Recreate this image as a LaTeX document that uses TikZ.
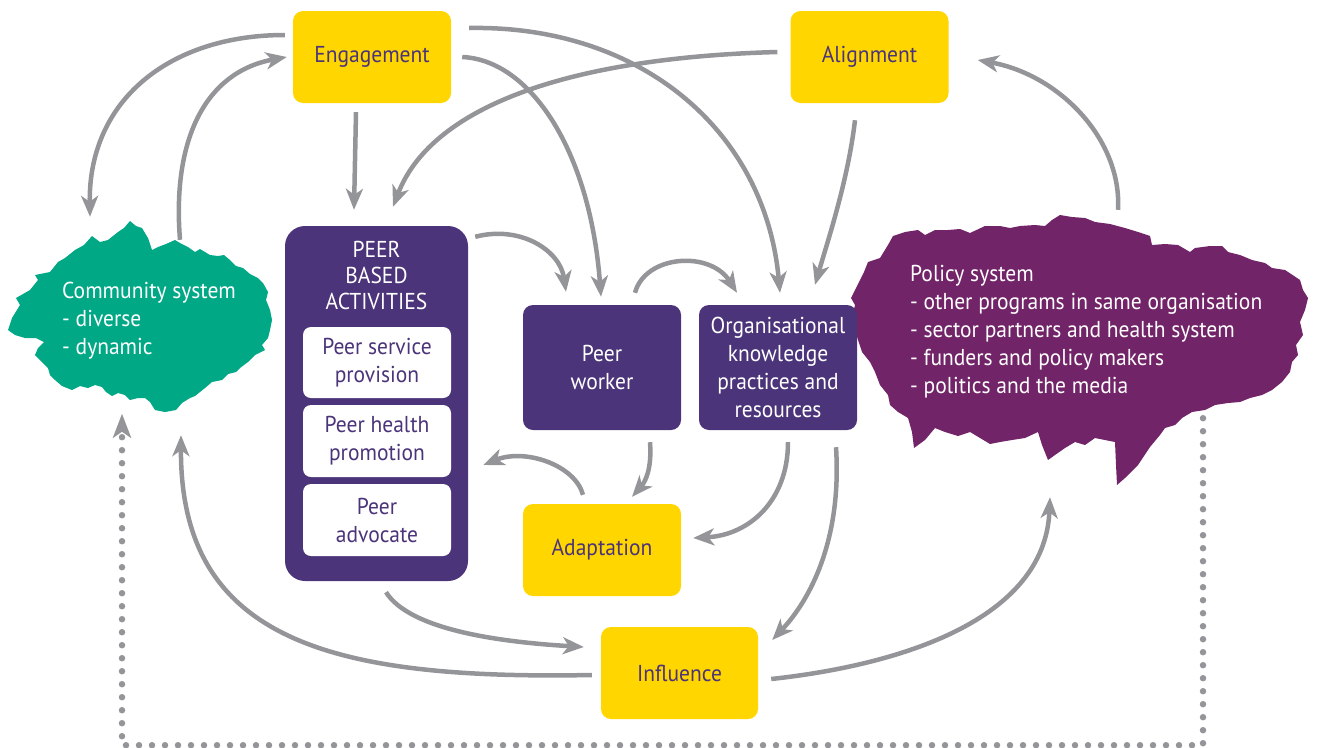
\documentclass[tikz,border=0pt]{standalone}
\usepackage{fontspec}
\setmainfont[FakeStretch=0.935]{PT Sans}
\usetikzlibrary{arrows.meta,calc}
\definecolor{myyellow}{HTML}{FFD600}
\definecolor{mypurple}{HTML}{4B3479}
\definecolor{polpurple}{HTML}{722468}
\definecolor{commgreen}{HTML}{00A886}
\definecolor{arrgray}{HTML}{949599}
\newcommand\bodyfont{\fontsize{23}{28}\selectfont}
\tikzset{
  ybox/.style={fill=myyellow, rounded corners=10pt, text=mypurple, minimum width=158pt, minimum height=92pt, align=center, inner sep=0pt, font=\bodyfont},
  pbox/.style={fill=mypurple, rounded corners=10pt, text=white, minimum width=158pt, minimum height=125pt, align=center, inner sep=0pt, font=\bodyfont},
  wbox/.style={fill=white, rounded corners=8pt, text=mypurple, minimum width=148pt, minimum height=71pt, align=center, inner sep=0pt, font=\bodyfont},
  arr/.style={draw=arrgray, line width=4.5pt, -{Stealth[length=21pt,width=17pt,inset=6pt]}},
  dotarr/.style={draw=arrgray, line width=6.5pt, line cap=round, dash pattern=on 0pt off 13pt, -{Stealth[length=24pt,width=18pt,inset=6pt]}},
  blobtext/.style={text=white, align=left, anchor=west, inner sep=0pt, font=\bodyfont}
}
\begin{document}
\begin{tikzpicture}[x=1pt,y=-1pt]
\useasboundingbox (0,0) rectangle (1317,747);
% invisible regions of the blobs
\node[minimum width=264pt, minimum height=195pt, inner sep=0pt] (comm) at (140,316) {};
\node[minimum width=458pt, minimum height=273pt, inner sep=0pt] (pol) at (1080,348.5) {};
% dotted connector (drawn below the blob)
\coordinate (dstart) at ([shift={(123,-67)}]pol.south);
\coordinate (dend) at ([shift={(-18,0)}]comm.south);
\draw[dotarr] (dstart) -- ++(0,327) -| (dend);
% community blob
\fill[commgreen] (8,330) -- (12,318) -- (20,305) -- (16,298) -- (30,290) -- (38,280) -- (35,275) -- (50,272) -- (58,262) -- (65,258) -- (75,250) -- (84,245) -- (92,236) -- (100,242) -- (108,240) -- (118,232) -- (124,228) -- (130,221) -- (136,226) -- (142,228) -- (148,238) -- (152,250) -- (158,247) -- (166,244) -- (175,240) -- (180,243) -- (188,247) -- (195,252) -- (200,249) -- (210,255) -- (218,256) -- (224,255) -- (230,260) -- (236,266) -- (243,268) -- (250,274) -- (258,278) -- (263,283) -- (268,292) -- (266,300) -- (270,310) -- (272,320) -- (270,330) -- (268,338) -- (262,345) -- (265,350) -- (255,355) -- (248,362) -- (240,368) -- (236,372) -- (228,374) -- (222,380) -- (212,382) -- (205,388) -- (200,392) -- (195,396) -- (190,398) -- (182,403) -- (176,410) -- (165,412) -- (155,410) -- (150,402) -- (145,398) -- (138,398) -- (130,400) -- (125,395) -- (118,393) -- (112,396) -- (106,392) -- (102,387) -- (95,385) -- (88,388) -- (80,386) -- (72,390) -- (62,386) -- (55,380) -- (50,375) -- (48,368) -- (42,362) -- (35,355) -- (38,348) -- (44,342) -- (36,338) -- (25,338) -- (15,335) -- cycle;
% policy blob
\fill[polpurple] (868,262) -- (880,258) -- (888,245) -- (893,236) -- (905,232) -- (918,230) -- (925,235) -- (935,230) -- (948,230) -- (960,229) -- (970,233) -- (985,226) -- (1000,226) -- (1010,228) -- (1020,226) -- (1035,225) -- (1045,226) -- (1052,220) -- (1060,215) -- (1072,217) -- (1085,218) -- (1095,222) -- (1110,224) -- (1125,228) -- (1138,232) -- (1150,236) -- (1152,245) -- (1165,244) -- (1178,245) -- (1190,252) -- (1195,248) -- (1210,246) -- (1222,246) -- (1228,252) -- (1240,255) -- (1252,260) -- (1265,263) -- (1272,268) -- (1285,270) -- (1300,280) -- (1303,290) -- (1308,298) -- (1305,310) -- (1300,322) -- (1303,335) -- (1296,345) -- (1298,355) -- (1292,362) -- (1290,372) -- (1282,382) -- (1272,390) -- (1262,395) -- (1250,398) -- (1240,402) -- (1228,403) -- (1215,405) -- (1205,410) -- (1192,412) -- (1182,418) -- (1175,425) -- (1165,428) -- (1160,435) -- (1150,447) -- (1138,465) -- (1125,478) -- (1117,485) -- (1116,465) -- (1115,442) -- (1105,440) -- (1095,438) -- (1085,445) -- (1075,442) -- (1065,448) -- (1055,455) -- (1048,460) -- (1042,445) -- (1038,432) -- (1025,438) -- (1012,440) -- (1000,442) -- (990,444) -- (980,438) -- (970,432) -- (958,436) -- (945,432) -- (935,428) -- (925,440) -- (914,448) -- (912,432) -- (908,418) -- (898,412) -- (890,405) -- (888,395) -- (880,385) -- (875,372) -- (870,362) -- (862,352) -- (858,340) -- (855,330) -- (852,318) -- (855,305) -- (851,298) -- (856,288) -- (860,280) -- (864,272) -- cycle;
% blob texts
\node[blobtext] (commtxt) at (62,320.5) {Community system\\- diverse\\- dynamic};
\node[blobtext] (poltxt) at (910,331.5) {Policy system\\- other programs in same organisation\\- sector partners and health system\\- funders and policy makers\\- politics and the media};
% boxes
\node[ybox] (eng) at (372,57) {Engagement};
\node[ybox] (ali) at (869.5,57) {Alignment};
\node[pbox, minimum width=183pt, minimum height=355pt, rounded corners=20pt] (pba) at (376.5,403.5) {};
\node[text=white, align=center, inner sep=0pt, font=\fontsize{23}{26}\selectfont] (pbatitle) at (376.5,275) {PEER\\BASED\\ACTIVITIES};
\node[wbox] (psp) at (377,362.5) {Peer service\\provision};
\node[wbox, minimum height=72pt] (phs) at (377,441) {Peer health\\promotion};
\node[wbox, minimum height=72pt] (pad) at (377,520) {Peer\\advocate};
\node[pbox] (pw) at (602,367.5) {Peer\\worker};
\node[pbox] (org) at (778,367.5) {Organisational\\knowledge\\practices and\\resources};
\node[ybox] (adp) at (602,550) {Adaptation};
\node[ybox, minimum width=157pt] (inf) at (679.5,673) {Influence};
% arrows
\draw[arr] ([shift={(-8,-22)}]eng.west) .. controls (170,35) and (88,100) .. ([shift={(-50,-1.5)}]comm.north);
\draw[arr] ([shift={(40,21.5)}]comm.north) .. controls (172,140) and (205,72) .. ([shift={(-6,0)}]eng.west);
\draw[arr] ([shift={(-16,9)}]eng.south) -- ([shift={(-22.5,-16)}]pba.north);
\draw[arr] ([shift={(-13,-5)}]ali.west) .. controls (560,58) and (430,110) .. ([shift={(16.5,-19)}]pba.north);
\draw[arr] ([shift={(11,0)}]eng.east) .. controls (530,60) and (590,150) .. ([shift={(-1,-8)}]pw.north);
\draw[arr] ([shift={(18,-29)}]eng.east) .. controls (640,25) and (765,130) .. ([shift={(2,-12)}]org.north);
\draw[arr] ([shift={(-14.5,17)}]ali.south) .. controls (848,180) and (828,240) .. ([shift={(37,-20)}]org.north);
\draw[arr] ([shift={(7,11)}]pba.north east) .. controls (520,225) and (560,250) .. ([shift={(-36,-13)}]pw.north);
\draw[arr] ([shift={(33,-12)}]pw.north) .. controls (645,255) and (710,250) .. ([shift={(-41,-12)}]org.north);
\draw[arr] ([shift={(48,12)}]pw.south) .. controls (652,470) and (645,482) .. ([shift={(30,-7)}]adp.north);
\draw[arr] ([shift={(-19,-9)}]adp.north) .. controls (575,465) and (525,448) .. ([shift={(15,61.5)}]pba.east);
\draw[arr] ([shift={(10,12)}]org.south) .. controls (788,500) and (750,535) .. ([shift={(12,-12)}]adp.east);
\draw[arr] ([shift={(58,17)}]org.south) .. controls (842,540) and (810,600) .. ([shift={(14,-33)}]inf.east);
\draw[arr] ([shift={(9.5,11)}]pba.south) .. controls (410,630) and (500,642) .. ([shift={(-17,-26)}]inf.west);
\draw[arr] ([shift={(-9,2)}]inf.west) .. controls (330,680) and (180,640) .. ([shift={(41,21.5)}]comm.south);
\draw[arr] ([shift={(13,6)}]inf.east) .. controls (900,665) and (1045,620) .. ([shift={(-30,12)}]pol.south);
\draw[arr] ([shift={(38,-2)}]pol.north) .. controls (1122,140) and (1060,75) .. ([shift={(29,3)}]ali.east);
\end{tikzpicture}
\end{document}
